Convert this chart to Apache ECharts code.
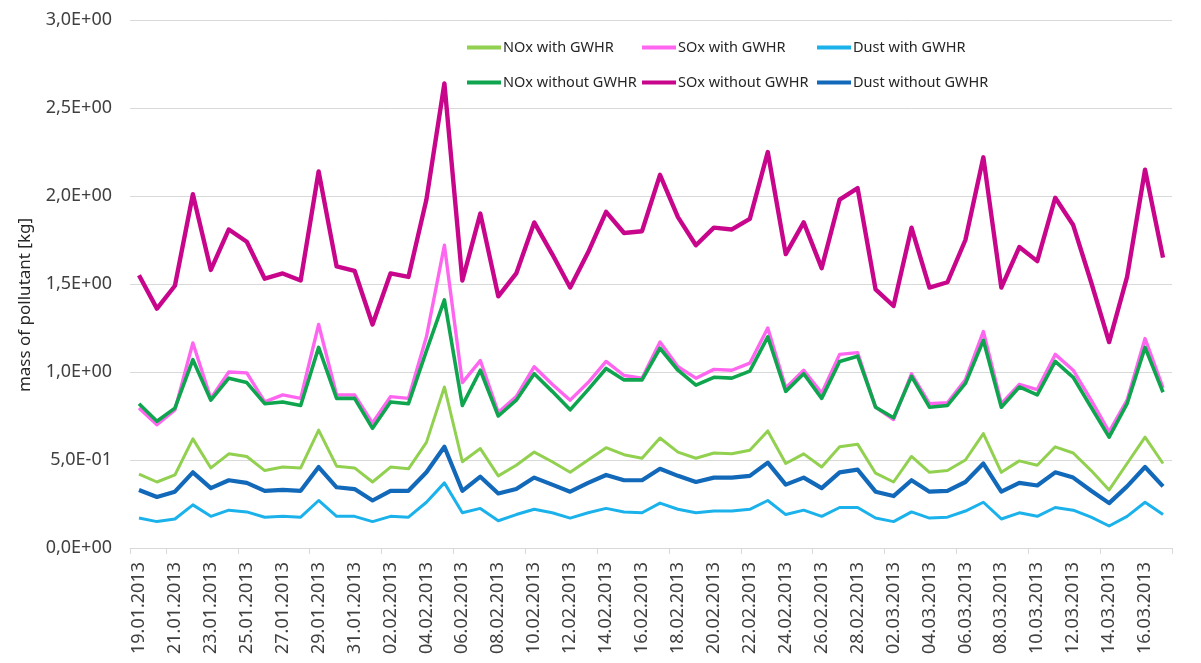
<!DOCTYPE html>
<html>
<head>
<meta charset="utf-8">
<script src="https://cdn.jsdelivr.net/npm/echarts@6/dist/echarts.min.js"></script>
<style>
  html, body { margin: 0; padding: 0; background: #fff; }
  #chart { width: 1201px; height: 663px; }
</style>
</head>
<body>
<div id="chart"></div>
<script>
// dates, one per day
const days = [
  "19.01.2013", "20.01.2013", "21.01.2013", "22.01.2013", "23.01.2013", "24.01.2013",
  "25.01.2013", "26.01.2013", "27.01.2013", "28.01.2013", "29.01.2013", "30.01.2013",
  "31.01.2013", "01.02.2013", "02.02.2013", "03.02.2013", "04.02.2013", "05.02.2013",
  "06.02.2013", "07.02.2013", "08.02.2013", "09.02.2013", "10.02.2013", "11.02.2013",
  "12.02.2013", "13.02.2013", "14.02.2013", "15.02.2013", "16.02.2013", "17.02.2013",
  "18.02.2013", "19.02.2013", "20.02.2013", "21.02.2013", "22.02.2013", "23.02.2013",
  "24.02.2013", "25.02.2013", "26.02.2013", "27.02.2013", "28.02.2013", "01.03.2013",
  "02.03.2013", "03.03.2013", "04.03.2013", "05.03.2013", "06.03.2013", "07.03.2013",
  "08.03.2013", "09.03.2013", "10.03.2013", "11.03.2013", "12.03.2013", "13.03.2013",
  "14.03.2013", "15.03.2013", "16.03.2013", "17.03.2013"
];

const noxWith = [
  0.42, 0.375, 0.415, 0.62, 0.455, 0.535, 0.52, 0.44, 0.46, 0.455, 0.67, 0.465,
  0.455, 0.375, 0.46, 0.45, 0.60, 0.915, 0.49, 0.565, 0.41, 0.47, 0.545, 0.49,
  0.43, 0.50, 0.57, 0.53, 0.51, 0.625, 0.545, 0.51, 0.54, 0.535, 0.555, 0.665,
  0.48, 0.535, 0.46, 0.575, 0.59, 0.425, 0.375, 0.52, 0.43, 0.44, 0.50, 0.65,
  0.43, 0.495, 0.47, 0.575, 0.54, 0.44, 0.33, 0.48, 0.63, 0.48
];
const soxWith = [
  0.795, 0.70, 0.785, 1.165, 0.85, 1.0, 0.995, 0.83, 0.87, 0.85, 1.27, 0.87,
  0.87, 0.71, 0.86, 0.85, 1.20, 1.72, 0.94, 1.065, 0.77, 0.86, 1.03, 0.93,
  0.84, 0.94, 1.06, 0.98, 0.965, 1.17, 1.03, 0.965, 1.015, 1.01, 1.05, 1.25,
  0.91, 1.01, 0.88, 1.10, 1.11, 0.80, 0.73, 0.99, 0.82, 0.825, 0.955, 1.23,
  0.82, 0.93, 0.90, 1.10, 1.01, 0.84, 0.66, 0.84, 1.19, 0.91
];
const dustWith = [
  0.17, 0.15, 0.165, 0.245, 0.18, 0.215, 0.205, 0.175, 0.18, 0.175, 0.27, 0.18,
  0.18, 0.15, 0.18, 0.175, 0.26, 0.37, 0.20, 0.225, 0.155, 0.19, 0.22, 0.20,
  0.17, 0.20, 0.225, 0.205, 0.20, 0.255, 0.22, 0.20, 0.21, 0.21, 0.22, 0.27,
  0.19, 0.215, 0.18, 0.23, 0.23, 0.17, 0.15, 0.205, 0.17, 0.175, 0.21, 0.26,
  0.165, 0.20, 0.18, 0.23, 0.215, 0.175, 0.125, 0.18, 0.26, 0.19
];
const noxWithout = [
  0.82, 0.72, 0.795, 1.07, 0.84, 0.965, 0.94, 0.82, 0.83, 0.81, 1.14, 0.85,
  0.85, 0.68, 0.83, 0.82, 1.12, 1.41, 0.81, 1.01, 0.75, 0.84, 0.99, 0.89,
  0.785, 0.90, 1.02, 0.955, 0.955, 1.135, 1.01, 0.925, 0.97, 0.965, 1.005, 1.20,
  0.89, 0.99, 0.85, 1.06, 1.09, 0.80, 0.74, 0.975, 0.80, 0.81, 0.935, 1.18,
  0.80, 0.915, 0.87, 1.06, 0.97, 0.80, 0.63, 0.82, 1.14, 0.885
];
const soxWithout = [
  1.55, 1.36, 1.49, 2.01, 1.58, 1.81, 1.74, 1.53, 1.56, 1.52, 2.14, 1.60,
  1.575, 1.27, 1.56, 1.54, 1.98, 2.64, 1.52, 1.90, 1.43, 1.56, 1.85, 1.67,
  1.48, 1.68, 1.91, 1.79, 1.80, 2.12, 1.88, 1.72, 1.82, 1.81, 1.87, 2.25,
  1.67, 1.85, 1.59, 1.98, 2.045, 1.47, 1.375, 1.82, 1.48, 1.51, 1.75, 2.22,
  1.48, 1.71, 1.63, 1.99, 1.835, 1.51, 1.17, 1.54, 2.15, 1.65
];
const dustWithout = [
  0.33, 0.29, 0.32, 0.43, 0.34, 0.385, 0.37, 0.325, 0.33, 0.325, 0.46, 0.345,
  0.335, 0.27, 0.325, 0.325, 0.43, 0.575, 0.325, 0.405, 0.31, 0.335, 0.40, 0.36,
  0.32, 0.37, 0.415, 0.385, 0.385, 0.45, 0.41, 0.375, 0.40, 0.40, 0.41, 0.485,
  0.36, 0.40, 0.34, 0.43, 0.445, 0.32, 0.295, 0.385, 0.32, 0.325, 0.375, 0.48,
  0.32, 0.37, 0.355, 0.43, 0.40, 0.325, 0.255, 0.35, 0.46, 0.35
];

const FONT = "Noto Sans";

// 1.5 -> "1,5E+00", 0.5 -> "5,0E-01"
function sci(v) {
  if (v === 0) return "0,0E+00";
  const e = Math.floor(Math.log10(v) + 1e-9);
  const m = (v / Math.pow(10, e)).toFixed(1).replace(".", ",");
  return m + "E" + (e < 0 ? "-" : "+") + String(Math.abs(e)).padStart(2, "0");
}

const lines = [
  { name: "NOx with GWHR", data: noxWith, color: "#92d050", width: 3 },
  { name: "SOx with GWHR", data: soxWith, color: "#ff66f0", width: 3.4 },
  { name: "Dust with GWHR", data: dustWith, color: "#1bb2ec", width: 3 },
  { name: "NOx without GWHR", data: noxWithout, color: "#0ea54e", width: 3.6 },
  { name: "SOx without GWHR", data: soxWithout, color: "#c8068c", width: 4.4 },
  { name: "Dust without GWHR", data: dustWithout, color: "#1269b9", width: 4.2 }
];

// legend: 2 rows x 3 columns, one component per entry
const legendCols = [467, 642, 817];
const legendRows = [40, 75];
const legends = lines.map((l, i) => ({
  data: [l.name],
  left: legendCols[i % 3],
  top: legendRows[Math.floor(i / 3)],
  padding: 0,
  icon: "rect",
  itemWidth: 34,
  itemHeight: 4,
  textStyle: { fontFamily: FONT, fontSize: 14.5, color: "#262626", padding: [0, 0, 0, -3] }
}));

const chart = echarts.init(document.getElementById("chart"));
chart.setOption({
  animation: false,
  backgroundColor: "#fff",
  legend: legends,
  grid: { left: 130, right: 29, top: 20, bottom: 115 },
  xAxis: {
    type: "category",
    data: days,
    boundaryGap: true,
    axisLine: { lineStyle: { color: "#d9d9d9", width: 1 } },
    axisTick: {
      show: true,
      length: 6,
      interval: (i) => i === 0 || i % 4 === 2,
      lineStyle: { color: "#d9d9d9" }
    },
    axisLabel: {
      interval: 1,
      rotate: 90,
      margin: 14,
      fontFamily: FONT,
      fontSize: 18,
      color: "#404040"
    },
    splitLine: { show: false }
  },
  yAxis: {
    type: "value",
    min: 0,
    max: 3,
    interval: 0.5,
    name: "mass of pollutant [kg]",
    nameLocation: "middle",
    nameRotate: 90,
    nameGap: 96,
    nameTextStyle: { fontFamily: FONT, fontSize: 17, color: "#262626", padding: [0, 42, 0, 0] },
    axisLine: { show: false },
    axisTick: { show: false },
    axisLabel: {
      formatter: sci,
      margin: 18,
      fontFamily: FONT,
      fontSize: 18,
      color: "#404040"
    },
    splitLine: { lineStyle: { color: "#d9d9d9", width: 1 } }
  },
  series: lines.map((l) => ({
    name: l.name,
    type: "line",
    data: l.data,
    symbol: "none",
    smooth: false,
    color: l.color,
    lineStyle: { color: l.color, width: l.width, join: "round" }
  }))
});
</script>
</body>
</html>
